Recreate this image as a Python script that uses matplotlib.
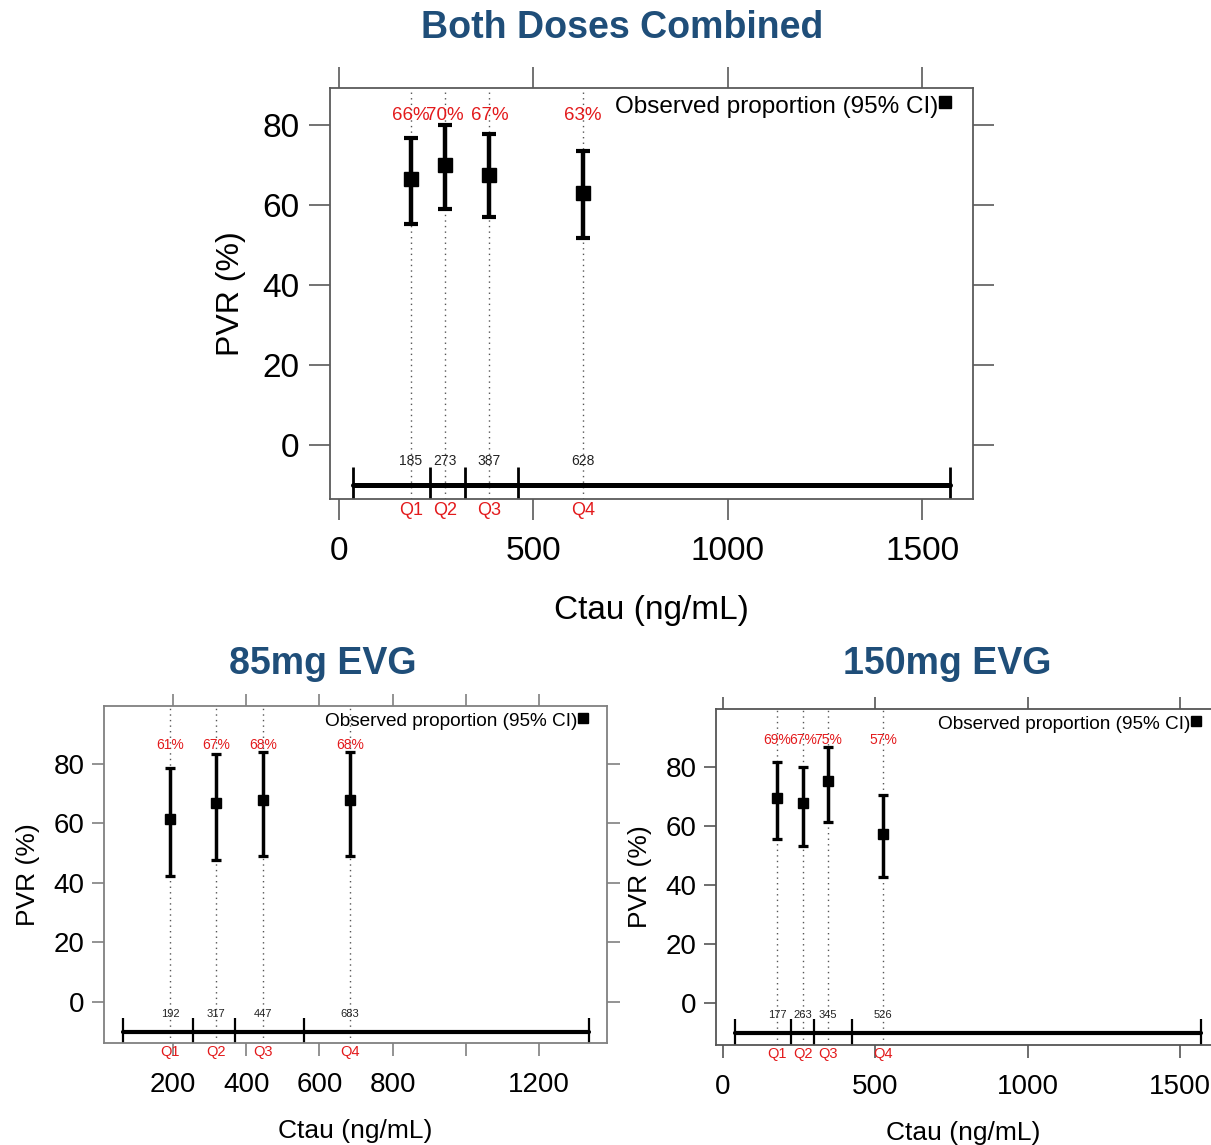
import numpy as np
import matplotlib
matplotlib.use("Agg")
import matplotlib.pyplot as plt

plt.rcParams['font.family'] = ['Liberation Sans', 'DejaVu Sans']

TITLE_COLOR = "#1F4E79"
RED = "#E31A1C"

# Both doses combined
all_median = [185, 273, 387, 628]
all_pvr = [66.5, 70.0, 67.5, 63.0]
all_lo = [55.3, 59.1, 56.9, 51.8]
all_hi = [76.7, 80.0, 77.7, 73.5]
all_pct = ["66%", "70%", "67%", "63%"]
all_bounds = [36, 234, 324, 460, 1572]

# 85mg EVG
e85_median = [192, 317, 447, 683]
e85_pvr = [61.5, 67.0, 68.0, 68.0]
e85_lo = [42.5, 47.8, 49.2, 49.2]
e85_hi = [78.8, 83.2, 84.0, 84.0]
e85_pct = ["61%", "67%", "68%", "68%"]
e85_bounds = [63, 255, 369, 558, 1337]

# 150mg EVG
e150_median = [177, 263, 345, 526]
e150_pvr = [69.6, 67.8, 75.4, 57.2]
e150_lo = [55.6, 53.2, 61.4, 42.7]
e150_hi = [81.7, 80.0, 86.8, 70.5]
e150_pct = ["69%", "67%", "75%", "57%"]
e150_bounds = [39, 223, 299, 423, 1569]

QLAB = ["Q1", "Q2", "Q3", "Q4"]


def panel(ax, med, pvr, lo, hi, pct, pct_y, bounds, xlim, ylim, xticks, xticklabels,
          big, spine_col, legend_x, hide_right=False):
    s = 1.0 if big else 0.78
    ax.set_xlim(*xlim)
    ax.set_ylim(*ylim)
    for x in med:
        ax.axvline(x, ls=(0, (1, 3)), color="#555555", lw=1.0, zorder=0)
    pvr = np.array(pvr); lo = np.array(lo); hi = np.array(hi)
    ax.errorbar(med, pvr, yerr=[pvr - lo, hi - pvr], fmt="s", color="black",
                ms=10 * s, lw=3.2 * s, capsize=5 * s, capthick=3 * s, zorder=3)
    for x, t in zip(med, pct):
        ax.text(x, pct_y, t, color=RED, ha="center", va="center",
                fontsize=13.5 if big else 10)
    # quartile bar
    ax.plot([bounds[0], bounds[-1]], [-10, -10], color="black",
            lw=3.6 if big else 3.0, solid_capstyle="round", zorder=2)
    ax.vlines(bounds, -5.5, ylim[0], color="black", lw=2.0 if big else 1.6, zorder=2)
    for x in med:
        ax.text(x, -4, str(x), ha="center", va="center",
                fontsize=10 if big else 8, color="#222222")
    for x, q in zip(med, QLAB):
        ax.text(x, ylim[0] - 3.0, q, ha="center", va="center", color=RED,
                fontsize=13 if big else 10.5, clip_on=False)
    # legend-like label
    ax.text(legend_x, 0.955, "Observed proportion (95% CI)", transform=ax.transAxes,
            ha="right", va="center", fontsize=17.5 if big else 13.7)
    ax.plot([legend_x + 0.011], [0.965], "s", color="black", ms=8 if big else 6.5,
            transform=ax.transAxes, clip_on=False)

    ax.set_yticks([0, 20, 40, 60, 80])
    ax.set_xticks(xticks)
    ax.set_xticklabels(xticklabels)
    fs = 24 if big else 20
    tl = 15 if big else 9
    ax.tick_params(axis="both", direction="out", length=tl, width=1.2,
                   color=spine_col, labelsize=fs, top=True, right=not hide_right,
                   labeltop=False, labelright=False)
    ax.tick_params(axis="x", pad=12)
    ax.tick_params(axis="y", pad=7 if big else 5)
    for sp in ax.spines.values():
        sp.set_color(spine_col)
        sp.set_linewidth(1.3)
    if hide_right:
        ax.spines["right"].set_visible(False)
    ax.set_ylabel("PVR (%)", fontsize=23 if big else 19, labelpad=12 if big else 10)
    ax.set_xlabel("Ctau (ng/mL)", fontsize=24 if big else 19, labelpad=20 if big else 15)


fig = plt.figure(figsize=(12.11, 11.45), dpi=100)

ax1 = fig.add_axes([0.2725, 0.5642, 0.531, 0.3589])
panel(ax1, all_median, all_pvr, all_lo, all_hi, all_pct, 82.5, all_bounds,
      (-23, 1631), (-13.5, 89.25), [0, 500, 1000, 1500],
      ["0", "500", "1000", "1500"], True, "#5a5a5a", 0.946)

ax2 = fig.add_axes([0.0859, 0.0891, 0.4153, 0.2943])
panel(ax2, e85_median, e85_pvr, e85_lo, e85_hi, e85_pct, 86.4, e85_bounds,
      (11.5, 1386), (-13.8, 99.5), [200, 400, 600, 800, 1000, 1200],
      ["200", "400", "600", "800", "", "1200"], False, "#808080", 0.942)

ax3 = fig.add_axes([0.5912, 0.0873, 0.4088, 0.2935])
panel(ax3, e150_median, e150_pvr, e150_lo, e150_hi, e150_pct, 89.2, e150_bounds,
      (-23, 1601), (-14.2, 99.7), [0, 500, 1000, 1500],
      ["0", "500", "1000", "1500"], False, "#555555", 0.958, hide_right=True)

fig.text(0.5136, 0.9755, "Both Doses Combined", ha="center", va="center",
         fontsize=27, fontweight="bold", color=TITLE_COLOR)
fig.text(0.2667, 0.4205, "85mg EVG", ha="center", va="center",
         fontsize=27, fontweight="bold", color=TITLE_COLOR)
fig.text(0.782, 0.4205, "150mg EVG", ha="center", va="center",
         fontsize=27, fontweight="bold", color=TITLE_COLOR)

fig.savefig("out.png", dpi=100)
